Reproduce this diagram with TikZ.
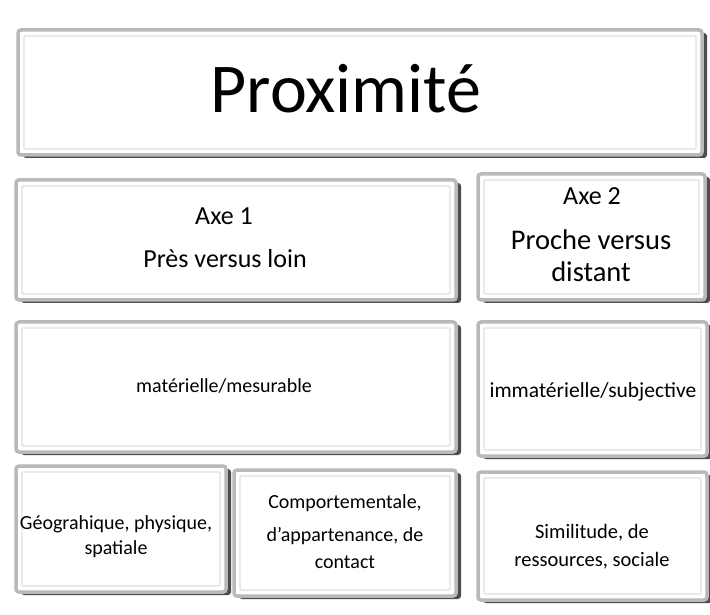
\documentclass[tikz,border=0pt]{standalone}
\usepackage{fontspec}
\setmainfont{Carlito}
\usetikzlibrary{shadows}
\begin{document}
\begin{tikzpicture}[x=1pt,y=1pt,
  bevel/.style={draw=gray!55, line width=3.5pt, fill=white, rounded corners=3pt,
    drop shadow={shadow xshift=5pt, shadow yshift=-3pt, fill=black, opacity=0.7}},
  inner/.style={draw=gray!25, line width=1.2pt, rounded corners=1pt},
  lbl/.style={anchor=base, inner sep=0pt, text=black}]
\useasboundingbox (0,0) rectangle (710,614);
% top box
\draw[bevel] (18,614-30) rectangle (702,614-155);
\draw[inner] (24,614-36) rectangle (696,614-149);
\node[lbl, font=\fontsize{70}{72}\selectfont] (prox) at (346,614-113) {Proximité};
% row 2
\draw[bevel] (16,614-180) rectangle (456,614-300);
\draw[inner] (22,614-186) rectangle (450,614-294);
\node[lbl, font=\fontsize{26}{30}\selectfont] (axe1) at (224,614-225) {Axe 1};
\node[lbl, font=\fontsize{26}{30}\selectfont] (pres) at (225,614-268) {Près versus loin};
\draw[bevel] (478,614-174) rectangle (705,614-300);
\draw[inner] (484,614-180) rectangle (699,614-294);
\node[lbl, font=\fontsize{26}{30}\selectfont] (axe2) at (592,614-205) {Axe 2};
\node[lbl, font=\fontsize{28.5}{30}\selectfont] (proche) at (591,614-250) {Proche versus};
\node[lbl, font=\fontsize{28.5}{30}\selectfont] (dist) at (591,614-282) {distant};
% row 3
\draw[bevel] (16,614-322) rectangle (456,614-452);
\draw[inner] (22,614-328) rectangle (450,614-446);
\node[lbl, font=\fontsize{20}{24}\selectfont] (mat) at (224,614-392) {matérielle/mesurable};
\draw[bevel] (478,614-322) rectangle (707,614-456);
\draw[inner] (484,614-328) rectangle (701,614-450);
\node[lbl, font=\fontsize{21.5}{24}\selectfont] (imm) at (593,614-398) {immatérielle/subjective};
% row 4
\draw[bevel] (16,614-466) rectangle (226,614-592);
\draw[inner] (22,614-472) rectangle (220,614-586);
\node[lbl, font=\fontsize{20}{24}\selectfont] (geo1) at (116,614-529) {Géograhique, physique,};
\node[lbl, font=\fontsize{20}{24}\selectfont] (geo2) at (116,614-554) {spatiale};
\draw[bevel] (234,614-470) rectangle (456,614-596);
\draw[inner] (240,614-476) rectangle (450,614-590);
\node[lbl, font=\fontsize{20}{24}\selectfont] (comp1) at (345,614-508) {Comportementale,};
\node[lbl, font=\fontsize{20}{24}\selectfont] (comp2) at (345,614-541) {d'appartenance, de};
\node[lbl, font=\fontsize{20}{24}\selectfont] (comp3) at (345,614-568) {contact};
\draw[bevel] (478,614-472) rectangle (707,614-600);
\draw[inner] (484,614-478) rectangle (701,614-594);
\node[lbl, font=\fontsize{20.5}{24}\selectfont] (sim1) at (592,614-538) {Similitude, de};
\node[lbl, font=\fontsize{20.5}{24}\selectfont] (sim2) at (592,614-566) {ressources, sociale};
\end{tikzpicture}
\end{document}
